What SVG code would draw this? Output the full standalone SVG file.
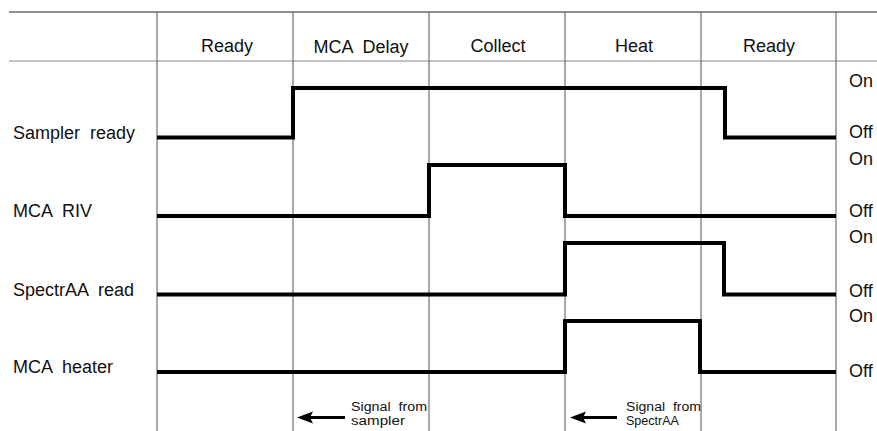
<svg xmlns="http://www.w3.org/2000/svg" width="877" height="431" viewBox="0 0 877 431">
<style>
text{font-family:"Liberation Sans",Arial,sans-serif;fill:#111;white-space:pre}
.hd{font-size:18px;text-anchor:middle}
.lb{font-size:18px}
.st{font-size:18px}
.sm{font-size:12px}
.grid{stroke:#555;stroke-width:1;fill:none}
.sig{stroke:#000;stroke-width:4;fill:none;stroke-linejoin:miter;stroke-linecap:butt}
.arr{stroke:#000;stroke-width:3}
</style>
<rect width="877" height="431" fill="#fff"/>
<g id="grid">
<line x1="9" y1="12" x2="877" y2="12" stroke="#222" stroke-width="1.2"/>
<line x1="9" y1="61" x2="877" y2="61" stroke="#888" stroke-width="1.2"/>
<line class="grid" x1="157" y1="12" x2="157" y2="431" stroke="#333"/>
<line class="grid" x1="293" y1="12" x2="293" y2="431"/>
<line class="grid" x1="429" y1="12" x2="429" y2="431" stroke="#777"/>
<line class="grid" x1="565" y1="12" x2="565" y2="431" stroke="#777"/>
<line class="grid" x1="701" y1="12" x2="701" y2="431"/>
<line class="grid" x1="836" y1="12" x2="836" y2="431" stroke="#777"/>
</g>
<g id="header">
<text class="hd" x="227" y="52">Ready</text>
<text class="hd" x="361" y="53" xml:space="preserve">MCA  Delay</text>
<text class="hd" x="498" y="52">Collect</text>
<text class="hd" x="634" y="52">Heat</text>
<text class="hd" x="769" y="52">Ready</text>
</g>
<g id="sampler-ready">
<text class="lb" x="13" y="139" xml:space="preserve">Sampler  ready</text>
<path class="sig" d="M157,137.5 H293 V88 H725 V137.5 H836"/>
<text class="st" x="849" y="87">On</text>
<text class="st" x="849" y="138">Off</text>
</g>
<g id="mca-riv">
<text class="lb" x="13" y="217" xml:space="preserve">MCA  RIV</text>
<path class="sig" d="M157,216 H429 V165 H565 V216 H836"/>
<text class="st" x="849" y="165">On</text>
<text class="st" x="849" y="217">Off</text>
</g>
<g id="spectraa-read">
<text class="lb" x="13" y="296" xml:space="preserve">SpectrAA  read</text>
<path class="sig" d="M157,294.5 H565 V243 H724 V294.5 H836"/>
<text class="st" x="849" y="243">On</text>
<text class="st" x="849" y="297">Off</text>
</g>
<g id="mca-heater">
<text class="lb" x="13" y="373" xml:space="preserve">MCA  heater</text>
<path class="sig" d="M157,372 H565 V321 H700 V372 H836"/>
<text class="st" x="849" y="322">On</text>
<text class="st" x="849" y="377">Off</text>
</g>
<g id="connectors">
<line class="arr" x1="309" y1="417.5" x2="345" y2="417.5"/>
<polygon points="297,417.5 313,411.5 310,417.5 313,423.5" fill="#000"/>
<line class="arr" x1="582" y1="417.5" x2="617" y2="417.5"/>
<polygon points="570,417.5 586,411.5 583,417.5 586,423.5" fill="#000"/>
</g>
<g id="note-sampler">
<text class="sm" x="351" y="410.5" textLength="76" lengthAdjust="spacingAndGlyphs" xml:space="preserve">Signal  from</text>
<text class="sm" x="351" y="424.5" textLength="54" lengthAdjust="spacingAndGlyphs">sampler</text>
</g>
<g id="note-spectraa">
<text class="sm" x="626" y="410.5" textLength="75" lengthAdjust="spacingAndGlyphs" xml:space="preserve">Signal  from</text>
<text class="sm" x="626" y="424.5" textLength="53" lengthAdjust="spacingAndGlyphs">SpectrAA</text>
</g>
</svg>
